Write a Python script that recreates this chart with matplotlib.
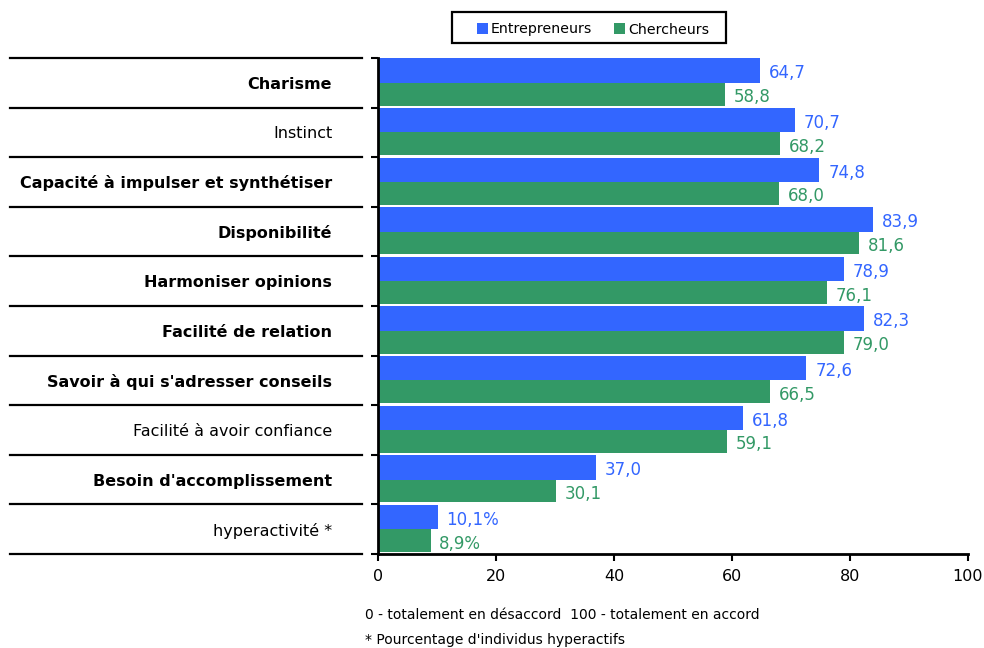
import matplotlib
matplotlib.use("Agg")
import matplotlib.pyplot as plt
from matplotlib.transforms import blended_transform_factory
from matplotlib.patches import Rectangle

categories = ["Charisme", "Instinct", "Capacité à impulser et synthétiser",
              "Disponibilité", "Harmoniser opinions", "Facilité de relation",
              "Savoir à qui s'adresser conseils", "Facilité à avoir confiance",
              "Besoin d'accomplissement", "hyperactivité *"]
bold = [True, False, True, True, True, True, True, False, True, False]
entrepreneurs = [64.7, 70.7, 74.8, 83.9, 78.9, 82.3, 72.6, 61.8, 37.0, 10.1]
chercheurs = [58.8, 68.2, 68.0, 81.6, 76.1, 79.0, 66.5, 59.1, 30.1, 8.9]
pct_flag = [False] * 9 + [True]
series_names = ["Entrepreneurs", "Chercheurs"]
xticks = [0, 20, 40, 60, 80, 100]

BLUE = "#3366FF"
GREEN = "#339966"
colors = [BLUE, GREEN]

plt.rcParams['font.family'] = ['DejaVu Sans']

W, H = 984, 648
fig = plt.figure(figsize=(W/100, H/100), dpi=100)
ax = fig.add_axes([378/W, 1-554/H, (968-378)/W, (554-58)/H])

n = len(categories)
ys = list(range(n))
ax.barh([y - 0.245 for y in ys], entrepreneurs, height=0.49, color=BLUE)
ax.barh([y + 0.23 for y in ys], chercheurs, height=0.46, color=GREEN)

def fmt(v, pct):
    s = f"{v:.1f}".replace(".", ",")
    return s + "%" if pct else s

for y, e, c, p in zip(ys, entrepreneurs, chercheurs, pct_flag):
    ax.text(e + 1.5, y - 0.19, fmt(e, p), color=BLUE, fontsize=12, va="center", ha="left")
    ax.text(c + 1.5, y + 0.29, fmt(c, p), color=GREEN, fontsize=12, va="center", ha="left")

ax.set_xlim(0, 100)
ax.set_ylim(n - 0.5, -0.5)
ax.set_xticks(xticks)
ax.set_xticklabels([str(t) for t in xticks], fontsize=11.5)
ax.tick_params(axis="x", direction="out", length=5, width=1.5, pad=6)

ax.set_yticks(ys)
ax.set_yticklabels(categories, fontsize=11.5)
for lbl, b in zip(ax.get_yticklabels(), bold):
    lbl.set_fontweight("bold" if b else "normal")
ax.tick_params(axis="y", which="major", length=0, pad=33)
ax.set_yticks([y - 0.5 for y in ys] + [n - 0.5], minor=True)
ax.tick_params(axis="y", which="minor", direction="out", length=5, width=1.5)

for s in ["top", "right"]:
    ax.spines[s].set_visible(False)
for s in ["left", "bottom"]:
    ax.spines[s].set_linewidth(2)

trans = blended_transform_factory(fig.transFigure, ax.transData)
for b in [y - 0.5 for y in ys] + [n - 0.5]:
    ax.plot([10/W, 362/W], [b, b], color="black", lw=1.6, transform=trans, clip_on=False)

# legend (drawn manually for exact box geometry)
fig.patches.append(Rectangle((452/W, 1-43/H), (726-452)/W, 31/H, transform=fig.transFigure,
                             facecolor="white", edgecolor="black", linewidth=1.6))
leg_x = [477, 614]
for name, col, lx in zip(series_names, colors, leg_x):
    fig.patches.append(Rectangle((lx/W, 1-34/H), 11/W, 11/H, transform=fig.transFigure,
                                 facecolor=col, edgecolor="none"))
    fig.text((lx + 14)/W, 1-33.5/H, name, fontsize=10.2, va="baseline", ha="left")

fig.text(365/W, 1-615/H, "0 - totalement en désaccord  100 - totalement en accord",
         fontsize=10, va="center", ha="left")
fig.text(365/W, 1-640/H, "* Pourcentage d'individus hyperactifs",
         fontsize=10, va="center", ha="left")

fig.savefig("out.png", dpi=100)
